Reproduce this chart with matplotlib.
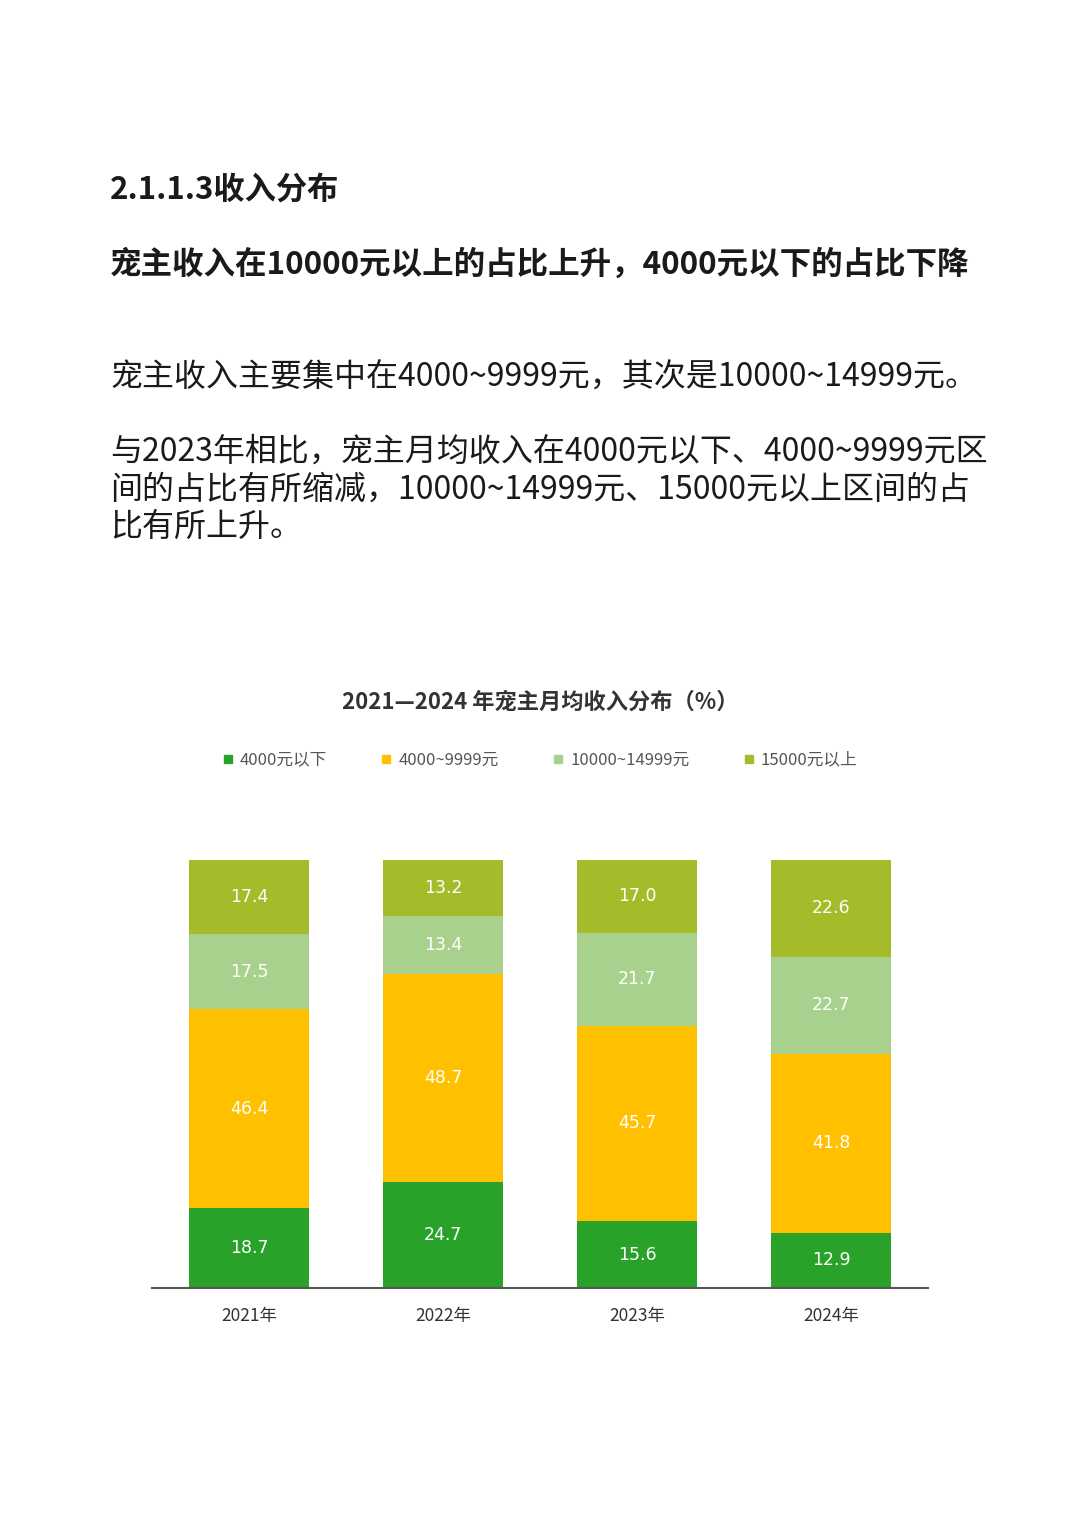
import matplotlib
matplotlib.use("Agg")
import matplotlib.pyplot as plt
from matplotlib.lines import Line2D

plt.rcParams['font.family'] = ['Noto Sans CJK SC', 'DejaVu Sans']

years = ["2021年", "2022年", "2023年", "2024年"]
series_names = ["4000元以下", "4000~9999元", "10000~14999元", "15000元以上"]
below_4000 = [18.7, 24.7, 15.6, 12.9]
from_4000 = [46.4, 48.7, 45.7, 41.8]
from_10000 = [17.5, 13.4, 21.7, 22.7]
above_15000 = [17.4, 13.2, 17.0, 22.6]
colors = ["#29a229", "#ffc000", "#a9d18e", "#a6bb2a"]

W, H = 1080, 1528
fig = plt.figure(figsize=(W / 100, H / 100), dpi=100)
fig.patch.set_facecolor("white")


def py(y):
    return 1 - y / H


text_color = "#1a1a1a"
fig.text(110 / W, py(190), "2.1.1.3收入分布", fontsize=22.5, fontweight="bold",
         color=text_color, va="center", ha="left")
fig.text(110 / W, py(265), "宠主收入在10000元以上的占比上升，4000元以下的占比下降",
         fontsize=22.7, fontweight="bold", color=text_color, va="center", ha="left")
fig.text(110 / W, py(378), "宠主收入主要集中在4000~9999元，其次是10000~14999元。",
         fontsize=23, color=text_color, va="center", ha="left")
body = ["与2023年相比，宠主月均收入在4000元以下、4000~9999元区",
        "间的占比有所缩减，10000~14999元、15000元以上区间的占",
        "比有所上升。"]
for i, line in enumerate(body):
    fig.text(110 / W, py(452 + 37.5 * i), line, fontsize=23, color=text_color,
             va="center", ha="left")

# chart
ax = fig.add_axes([152 / W, (H - 1288) / H, 776 / W, 428 / H])
series = [below_4000, from_4000, from_10000, above_15000]
x = list(range(len(years)))
bottom = [0.0] * len(years)
for vals, c in zip(series, colors):
    ax.bar(x, vals, width=0.62, bottom=bottom, color=c, zorder=2)
    for xi, b, v in zip(x, bottom, vals):
        ax.text(xi, b + v / 2, f"{v:.1f}", ha="center", va="center",
                fontsize=12.5, color="white", family=["DejaVu Sans"])
    bottom = [b + v for b, v in zip(bottom, vals)]

ax.set_xlim(-0.5, 3.5)
ax.set_ylim(0, 100)
ax.set_xticks(x)
ax.set_xticklabels(years, fontsize=12.5, color="#333333")
ax.tick_params(axis="x", length=0, pad=14)
ax.set_yticks([])
for s in ["top", "left", "right"]:
    ax.spines[s].set_visible(False)
ax.spines["bottom"].set_color("#555555")
ax.spines["bottom"].set_linewidth(1.5)

ax.text(0.5, 1.369, "2021—2024 年宠主月均收入分布（%）", transform=ax.transAxes,
        ha="center", va="center", fontsize=16, fontweight="bold", color="#333333")

handles = [Line2D([0], [0], marker="s", linestyle="none", markersize=6,
                  markerfacecolor=c, markeredgecolor=c) for c in colors]
leg = ax.legend(handles, series_names, loc="center", bbox_to_anchor=(0.5, 1.2336),
                ncol=4, frameon=False, fontsize=12, handlelength=0.6,
                handletextpad=0.4, columnspacing=3.3)
for t in leg.get_texts():
    t.set_color("#555555")

fig.savefig("out.png", dpi=100, facecolor="white")
